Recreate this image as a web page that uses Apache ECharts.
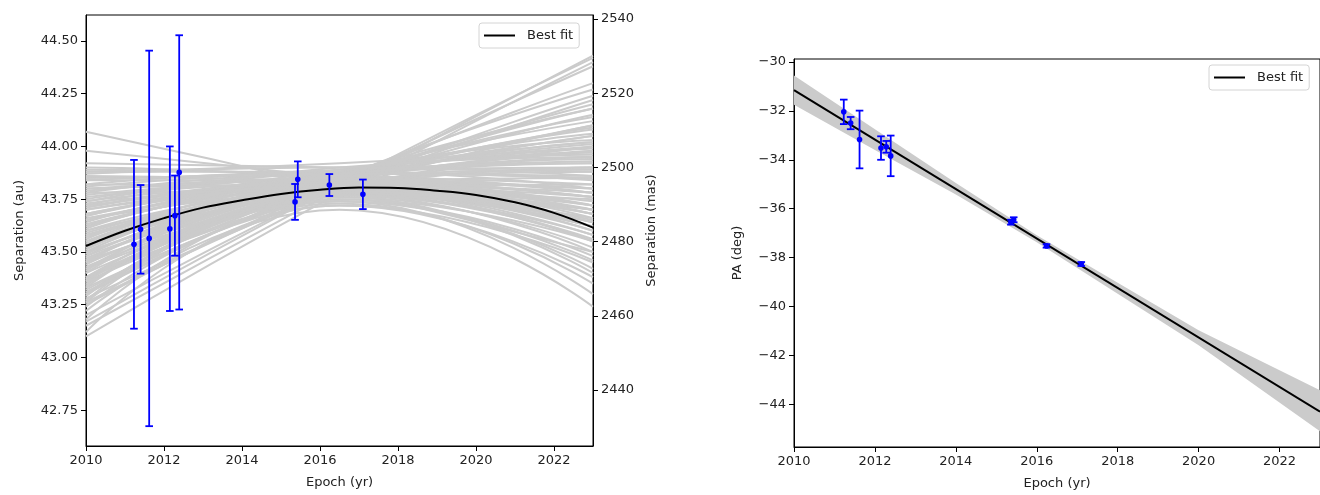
<!DOCTYPE html>
<html>
<head>
<meta charset="utf-8">
<script src="https://cdn.jsdelivr.net/npm/echarts@6/dist/echarts.min.js"></script>
<style>
html,body{margin:0;padding:0;background:#fff;}
#chart{width:1320px;height:495px;}
</style>
</head>
<body>
<div id="chart"></div>
<script>
// ---------- data ----------
const epochs   = [2011.23, 2011.40, 2011.62, 2012.15, 2012.28, 2012.39, 2015.36, 2015.43, 2016.24, 2017.10];
const sepAu    = [43.536, 43.607, 43.564, 43.610, 43.672, 43.877, 43.737, 43.844, 43.817, 43.773];
const sepErr   = [0.40, 0.21, 0.89, 0.39, 0.19, 0.65, 0.085, 0.085, 0.052, 0.07];
const paDeg    = [-32.04, -32.50, -33.17, -33.52, -33.47, -33.84, -36.55, -36.45, -37.52, -38.26];
const paErr    = [0.50, 0.25, 1.18, 0.48, 0.24, 0.83, 0.10, 0.10, 0.07, 0.08];

const fitEpochs = [2010, 2011, 2012, 2013, 2014, 2015, 2016, 2017, 2018, 2019, 2020, 2021, 2022, 2023];
const fitSep    = [43.528, 43.60, 43.66, 43.71, 43.745, 43.775, 43.795, 43.805, 43.803, 43.79, 43.77, 43.735, 43.685, 43.615];

const fitPaEpochs = [2010, 2023];
const fitPa       = [-31.15, -44.30];

const bandEpochs = [2010, 2012, 2014, 2016, 2018, 2020, 2023];
const bandUpper  = [-30.55, -32.75, -34.95, -37.08, -39.03, -40.97, -43.42];
const bandLower  = [-31.75, -33.60, -35.42, -37.37, -39.48, -41.58, -45.10];

// grey orbit draws: separation (au) at 2010, 2016.5, 2023
const orbitEpochs = [2010, 2016.5, 2023];
const orbitSeps = [
  [43.10, 43.78, 44.40], [43.15, 43.80, 44.43], [43.20, 43.82, 44.38], [43.25, 43.83, 44.30],
  [43.28, 43.80, 44.22], [43.30, 43.85, 44.27], [43.33, 43.82, 44.15], [43.36, 43.84, 44.20],
  [43.38, 43.80, 44.10], [43.40, 43.86, 44.18], [43.42, 43.82, 44.05], [43.45, 43.85, 44.08],
  [43.46, 43.80, 44.00], [43.48, 43.87, 44.12], [43.50, 43.83, 43.98], [43.52, 43.88, 44.03],
  [43.55, 43.84, 43.95], [43.57, 43.86, 43.99], [43.60, 43.82, 43.90], [43.62, 43.88, 43.97],
  [43.65, 43.84, 43.88], [43.68, 43.86, 43.92], [43.70, 43.83, 43.85], [43.72, 43.88, 43.90],
  [43.75, 43.85, 43.82], [43.78, 43.87, 43.86], [43.80, 43.84, 43.80], [43.82, 43.88, 43.84],
  [43.85, 43.86, 43.78], [43.88, 43.88, 43.80], [43.90, 43.85, 43.72], [43.98, 43.85, 43.70],
  [44.07, 43.80, 43.50],
  [43.12, 43.72, 43.45], [43.18, 43.74, 43.30], [43.22, 43.70, 43.24], [43.26, 43.76, 43.40],
  [43.30, 43.73, 43.35], [43.34, 43.77, 43.50], [43.38, 43.75, 43.42], [43.42, 43.78, 43.55],
  [43.44, 43.74, 43.48], [43.48, 43.79, 43.60], [43.52, 43.76, 43.52], [43.55, 43.80, 43.65],
  [43.58, 43.77, 43.58], [43.62, 43.81, 43.68], [43.65, 43.78, 43.62], [43.70, 43.80, 43.60],
  [43.74, 43.82, 43.66], [43.78, 43.79, 43.55], [43.82, 43.80, 43.58], [43.86, 43.82, 43.64],
  [43.35, 43.80, 43.90], [43.40, 43.78, 43.75], [43.45, 43.81, 43.82], [43.50, 43.80, 43.72],
  [43.56, 43.82, 43.78], [43.60, 43.79, 43.70], [43.64, 43.83, 43.80], [43.68, 43.81, 43.74],
  [43.32, 43.79, 43.95], [43.27, 43.77, 43.70], [43.38, 43.83, 44.02], [43.66, 43.87, 44.05],
  [43.72, 43.86, 43.98], [43.58, 43.85, 44.10], [43.92, 43.90, 43.88], [43.88, 43.92, 44.00],
  [43.26, 43.81, 44.24], [43.31, 43.83, 44.18], [43.37, 43.85, 44.14], [43.43, 43.84, 44.09],
  [43.47, 43.86, 44.06], [43.53, 43.85, 44.01], [43.59, 43.87, 44.02], [43.63, 43.86, 43.94],
  [43.67, 43.89, 43.96], [43.71, 43.87, 43.93], [43.74, 43.90, 43.95], [43.77, 43.86, 43.89],
  [43.81, 43.89, 43.92], [43.84, 43.87, 43.85], [43.87, 43.90, 43.86], [43.89, 43.86, 43.76],
  [43.29, 43.75, 43.55], [43.33, 43.78, 43.62], [43.37, 43.77, 43.66], [43.41, 43.80, 43.70],
  [43.46, 43.78, 43.64], [43.51, 43.81, 43.76], [43.54, 43.79, 43.68], [43.61, 43.83, 43.76],
  [43.67, 43.82, 43.70], [43.71, 43.84, 43.76], [43.76, 43.83, 43.72], [43.80, 43.82, 43.68],
  [43.84, 43.84, 43.72], [43.24, 43.72, 43.38], [43.36, 43.74, 43.46], [43.49, 43.77, 43.56],
  [43.57, 43.79, 43.62], [43.63, 43.80, 43.64], [43.73, 43.81, 43.62], [43.79, 43.85, 43.78],
  [43.17, 43.82, 44.42]
];

const xTicks      = [2010, 2012, 2014, 2016, 2018, 2020, 2022];
const sepAuTicks  = [42.75, 43.00, 43.25, 43.50, 43.75, 44.00, 44.25, 44.50];
const sepMasTicks = [2440, 2460, 2480, 2500, 2520, 2540];
const paTicks     = [-44, -42, -40, -38, -36, -34, -32, -30];

// ---------- styling ----------
const FONT = 'DejaVu Sans';
const TXT = '#222';
const BLUE = '#0000ff';

function axisCommon() {
  return {
    axisLine: {show: true, onZero: false, lineStyle: {color: '#000', width: 1}},
    splitLine: {show: false},
    nameTextStyle: {fontFamily: FONT, fontSize: 13, color: TXT},
  };
}

function renderErr(params, api) {
  const x = api.value(0), y = api.value(1), e = api.value(2);
  const p = api.coord([x, y]);
  const t = api.coord([x, y + e]);
  const b = api.coord([x, y - e]);
  const cw = 3.8;
  const st = {stroke: BLUE, lineWidth: 1.8};
  return {
    type: 'group',
    children: [
      {type: 'line', shape: {x1: p[0], y1: t[1], x2: p[0], y2: b[1]}, style: st},
      {type: 'line', shape: {x1: p[0] - cw, y1: t[1], x2: p[0] + cw, y2: t[1]}, style: st},
      {type: 'line', shape: {x1: p[0] - cw, y1: b[1], x2: p[0] + cw, y2: b[1]}, style: st},
      {type: 'circle', shape: {cx: p[0], cy: p[1], r: 2.8}, style: {fill: BLUE}}
    ]
  };
}

function renderBand(params, api) {
  const pts = [];
  for (let i = 0; i < bandEpochs.length; i++) pts.push(api.coord([bandEpochs[i], bandUpper[i]]));
  for (let i = bandEpochs.length - 1; i >= 0; i--) pts.push(api.coord([bandEpochs[i], bandLower[i]]));
  return {type: 'polygon', shape: {points: pts, smooth: 0}, style: {fill: '#cbcbcb'}};
}

const series = [];
orbitSeps.forEach((vals, k) => {
  series.push({
    type: 'line', name: 'draw' + k, xAxisIndex: 0, yAxisIndex: 0,
    data: orbitEpochs.map((t, i) => [t, vals[i]]),
    smooth: 0.5, symbol: 'none', silent: true,
    lineStyle: {color: '#cbcbcb', width: 2}, z: 1
  });
});
series.push({
  type: 'line', name: 'Best fit', xAxisIndex: 0, yAxisIndex: 0,
  data: fitEpochs.map((t, i) => [t, fitSep[i]]),
  smooth: 0.4, symbol: 'none', lineStyle: {color: '#000', width: 2}, z: 3
});
series.push({
  type: 'custom', name: 'sepData', xAxisIndex: 0, yAxisIndex: 0,
  data: epochs.map((t, i) => [t, sepAu[i], sepErr[i]]),
  renderItem: renderErr, clip: true, z: 5
});
series.push({
  type: 'custom', name: 'band', xAxisIndex: 1, yAxisIndex: 2,
  data: [[bandEpochs[0], bandUpper[0]]],
  renderItem: renderBand, clip: true, silent: true, z: 1
});
series.push({
  type: 'line', name: 'Best fit', xAxisIndex: 1, yAxisIndex: 2,
  data: fitPaEpochs.map((t, i) => [t, fitPa[i]]),
  symbol: 'none', lineStyle: {color: '#000', width: 2}, z: 3
});
series.push({
  type: 'custom', name: 'paData', xAxisIndex: 1, yAxisIndex: 2,
  data: epochs.map((t, i) => [t, paDeg[i], paErr[i]]),
  renderItem: renderErr, clip: true, z: 5
});

const legendCommon = {
  data: ['Best fit'],
  orient: 'horizontal',
  icon: 'rect', itemWidth: 31, itemHeight: 2,
  itemStyle: {color: '#000', borderWidth: 0},
  textStyle: {fontFamily: FONT, fontSize: 13, color: TXT, padding: [0, 0, 0, 7]},
  backgroundColor: 'rgba(255,255,255,0.85)',
  borderColor: '#d4d4d4', borderWidth: 1, borderRadius: 3,
  padding: [6, 6, 6, 5],
  selectedMode: false
};

function ticks(vals) {
  return {show: true, inside: false, length: 5, lineStyle: {color: '#000', width: 1}, customValues: vals};
}
function labels(vals, fmt) {
  return {fontFamily: FONT, fontSize: 13, color: TXT, margin: 8, customValues: vals, formatter: fmt};
}

const option = {
  animation: false,
  backgroundColor: '#fff',
  textStyle: {fontFamily: FONT},
  grid: [
    {left: 86, top: 15, width: 507, height: 431, show: true, borderColor: '#000', borderWidth: 1, backgroundColor: 'transparent'},
    {left: 794, top: 59, right: -5, height: 392, show: true, borderColor: '#000', borderWidth: 1, backgroundColor: 'transparent'}
  ],
  legend: [
    Object.assign({left: 479, top: 23}, legendCommon),
    Object.assign({left: 1209, top: 65}, legendCommon)
  ],
  xAxis: [
    Object.assign(axisCommon(), {
      type: 'value', gridIndex: 0, min: 2010, max: 2023, interval: 2,
      name: 'Epoch (yr)', nameLocation: 'middle', nameGap: 30,
      axisLabel: labels(xTicks, v => String(Math.round(v))),
      axisTick: ticks(xTicks)
    }),
    Object.assign(axisCommon(), {
      type: 'value', gridIndex: 1, min: 2010, max: 2023, interval: 2,
      name: 'Epoch (yr)', nameLocation: 'middle', nameGap: 30,
      axisLabel: labels(xTicks, v => String(Math.round(v))),
      axisTick: ticks(xTicks)
    })
  ],
  yAxis: [
    Object.assign(axisCommon(), {
      type: 'value', gridIndex: 0, position: 'left', min: 42.58, max: 44.623,
      name: 'Separation (au)', nameLocation: 'middle', nameGap: 60, nameRotate: 90,
      axisLabel: labels(sepAuTicks, v => v.toFixed(2)),
      axisTick: ticks(sepAuTicks)
    }),
    Object.assign(axisCommon(), {
      type: 'value', gridIndex: 0, position: 'right', min: 2424.9, max: 2541.08,
      name: 'Separation (mas)', nameLocation: 'middle', nameGap: 52, nameRotate: 90,
      axisLabel: labels(sepMasTicks, v => String(Math.round(v))),
      axisTick: ticks(sepMasTicks)
    }),
    Object.assign(axisCommon(), {
      type: 'value', gridIndex: 1, position: 'left', min: -45.74, max: -29.88,
      name: 'PA (deg)', nameLocation: 'middle', nameGap: 50, nameRotate: 90,
      axisLabel: labels(paTicks, v => '\u2212' + Math.abs(Math.round(v))),
      axisTick: ticks(paTicks)
    })
  ],
  series: series
};

const chart = echarts.init(document.getElementById('chart'), null, {renderer: 'canvas'});
chart.setOption(option);
</script>
</body>
</html>
